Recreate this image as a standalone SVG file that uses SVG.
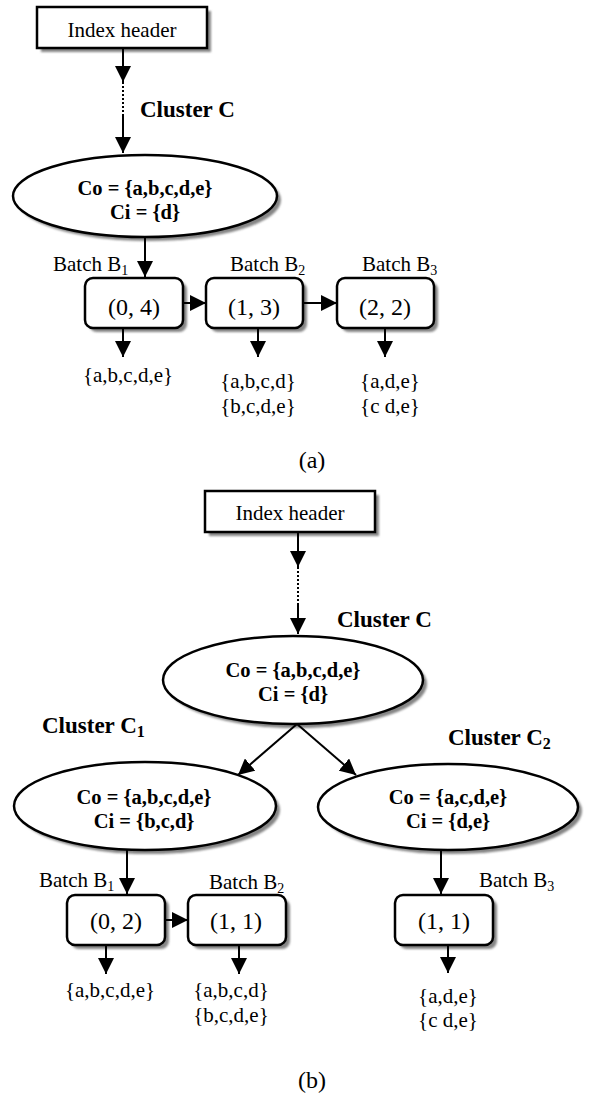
<svg xmlns="http://www.w3.org/2000/svg" width="591" height="1095" viewBox="0 0 591 1095">
<style>
text{font-family:"Liberation Serif","Times New Roman",serif;fill:#000}
.t{font-size:21px}
.b{font-size:20.5px;font-weight:bold}
.cl{font-size:23px;font-weight:bold}
.bx{font-size:24px}
.cap{font-size:24px}
.m{text-anchor:middle}
.shape{fill:#fff;stroke:#000;stroke-width:2.5}
.sh{fill:#858585;filter:url(#blur)}
.ln{stroke:#000;stroke-width:2;fill:none}
.arr{marker-end:url(#ah)}
.dot{stroke-dasharray:2,2}
</style>
<defs>
<filter id="blur" x="-10%" y="-10%" width="120%" height="120%"><feGaussianBlur stdDeviation="0.8"/></filter>
<marker id="ah" markerUnits="userSpaceOnUse" markerWidth="16" markerHeight="16" viewBox="0 0 16 16" refX="16" refY="8" orient="auto"><path d="M0,0 L16,8 L0,16 Z" fill="#000"/></marker>
</defs>

<!-- (a) -->
<g id="a-index">
<rect class="sh" x="41" y="11" width="170" height="41"/>
<rect class="shape" x="37" y="7" width="170" height="41"/>
<text class="t m" x="122" y="37">Index header</text>
</g>
<g id="a-clusterC">
<ellipse class="sh" cx="149" cy="200" rx="132" ry="41"/>
<ellipse class="shape" cx="145" cy="196" rx="132" ry="41"/>
<text class="b m" x="145" y="195">Co = {a,b,c,d,e}</text>
<text class="b m" x="145" y="219">Ci = {d}</text>
<text class="cl" x="140" y="117">Cluster C</text>
</g>
<g id="a-b1">
<rect class="sh" x="89" y="282" width="98" height="50" rx="8"/>
<rect class="shape" x="85" y="278" width="98" height="50" rx="8"/>
<text class="bx m" x="134" y="315">(0, 4)</text>
<text class="t" x="53" y="271">Batch B<tspan font-size="14" dy="4">1</tspan></text>
<text class="t m" x="128" y="382">{a,b,c,d,e}</text>
</g>
<g id="a-b2">
<rect class="sh" x="210" y="282" width="97" height="50" rx="8"/>
<rect class="shape" x="206" y="278" width="97" height="50" rx="8"/>
<text class="bx m" x="254" y="315">(1, 3)</text>
<text class="t" x="230" y="271">Batch B<tspan font-size="14" dy="4">2</tspan></text>
<text class="t m" x="258" y="388">{a,b,c,d}</text>
<text class="t m" x="258" y="413">{b,c,d,e}</text>
</g>
<g id="a-b3">
<rect class="sh" x="341" y="282" width="97" height="50" rx="8"/>
<rect class="shape" x="337" y="278" width="97" height="50" rx="8"/>
<text class="bx m" x="385" y="315">(2, 2)</text>
<text class="t" x="362" y="271">Batch B<tspan font-size="14" dy="4">3</tspan></text>
<text class="t m" x="390" y="388">{a,d,e}</text>
<text class="t m" x="390" y="413">{c d,e}</text>
</g>
<text class="cap m" x="312" y="468">(a)</text>

<!-- (b) -->
<g id="b-index">
<rect class="sh" x="209" y="495" width="170" height="41"/>
<rect class="shape" x="205" y="491" width="170" height="41"/>
<text class="t m" x="290" y="520">Index header</text>
</g>
<g id="b-clusterC">
<ellipse class="sh" cx="297" cy="684" rx="130" ry="44"/>
<ellipse class="shape" cx="293" cy="680" rx="130" ry="44"/>
<text class="b m" x="293" y="677">Co = {a,b,c,d,e}</text>
<text class="b m" x="293" y="701">Ci = {d}</text>
<text class="cl" x="337" y="627">Cluster C</text>
</g>
<g id="b-clusterC1">
<ellipse class="sh" cx="149" cy="810" rx="131" ry="44"/>
<ellipse class="shape" cx="145" cy="806" rx="131" ry="44"/>
<text class="b m" x="144" y="804">Co = {a,b,c,d,e}</text>
<text class="b m" x="144" y="828">Ci = {b,c,d}</text>
<text class="cl" x="42" y="733">Cluster C<tspan font-size="16" dy="4">1</tspan></text>
</g>
<g id="b-clusterC2">
<ellipse class="sh" cx="452" cy="811" rx="130" ry="43"/>
<ellipse class="shape" cx="448" cy="807" rx="130" ry="43"/>
<text class="b m" x="448" y="804">Co = {a,c,d,e}</text>
<text class="b m" x="448" y="828">Ci = {d,e}</text>
<text class="cl" x="448" y="745">Cluster C<tspan font-size="16" dy="4">2</tspan></text>
</g>
<g id="b-b1">
<rect class="sh" x="71" y="899" width="98" height="50" rx="8"/>
<rect class="shape" x="67" y="895" width="98" height="50" rx="8"/>
<text class="bx m" x="116" y="929">(0, 2)</text>
<text class="t" x="39" y="887">Batch B<tspan font-size="14" dy="4">1</tspan></text>
<text class="t m" x="110" y="997">{a,b,c,d,e}</text>
</g>
<g id="b-b2">
<rect class="sh" x="192" y="899" width="98" height="50" rx="8"/>
<rect class="shape" x="188" y="895" width="98" height="50" rx="8"/>
<text class="bx m" x="236" y="929">(1, 1)</text>
<text class="t" x="209" y="889">Batch B<tspan font-size="14" dy="4">2</tspan></text>
<text class="t m" x="231" y="997">{a,b,c,d}</text>
<text class="t m" x="231" y="1022">{b,c,d,e}</text>
</g>
<g id="b-b3">
<rect class="sh" x="399" y="899" width="98" height="50" rx="8"/>
<rect class="shape" x="395" y="895" width="98" height="50" rx="8"/>
<text class="bx m" x="444" y="929">(1, 1)</text>
<text class="t" x="479" y="887">Batch B<tspan font-size="14" dy="4">3</tspan></text>
<text class="t m" x="448" y="1003">{a,d,e}</text>
<text class="t m" x="448" y="1027">{c d,e}</text>
</g>
<text class="cap m" x="312" y="1088">(b)</text>

<g id="connectors">
<!-- (a) -->
<line class="ln arr" x1="123" y1="48" x2="123" y2="82"/>
<line class="ln dot" x1="123" y1="82" x2="123" y2="115"/>
<line class="ln arr" x1="123" y1="115" x2="123" y2="153"/>
<line class="ln arr" x1="145" y1="237" x2="145" y2="277"/>
<line class="ln arr" x1="183" y1="303" x2="206" y2="303"/>
<line class="ln arr" x1="303" y1="303" x2="337" y2="303"/>
<line class="ln arr" x1="123" y1="329" x2="123" y2="357"/>
<line class="ln arr" x1="258" y1="329" x2="258" y2="357"/>
<line class="ln arr" x1="385" y1="329" x2="385" y2="357"/>
<!-- (b) -->
<line class="ln arr" x1="298" y1="532" x2="298" y2="567"/>
<line class="ln dot" x1="298" y1="567" x2="298" y2="603"/>
<line class="ln arr" x1="298" y1="603" x2="298" y2="634"/>
<line class="ln arr" x1="297" y1="724" x2="238" y2="775"/>
<line class="ln arr" x1="297" y1="724" x2="356" y2="775"/>
<line class="ln arr" x1="127" y1="850" x2="127" y2="894"/>
<line class="ln arr" x1="441" y1="850" x2="441" y2="894"/>
<line class="ln arr" x1="165" y1="920" x2="188" y2="920"/>
<line class="ln arr" x1="106" y1="946" x2="106" y2="974"/>
<line class="ln arr" x1="239" y1="946" x2="239" y2="974"/>
<line class="ln arr" x1="448" y1="946" x2="448" y2="973"/>
</g>
</svg>
